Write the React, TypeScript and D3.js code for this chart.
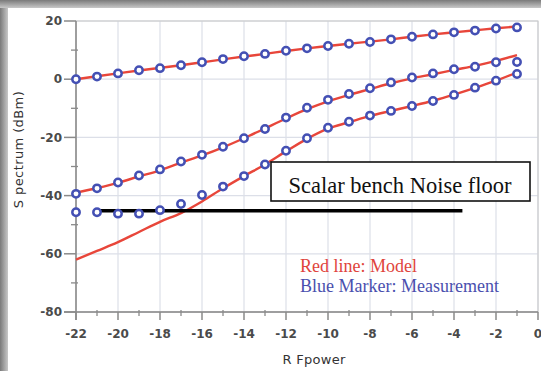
import React from 'react';
import * as d3 from 'd3';

// RF power steps (dBm)
const rfPower = [-22, -21, -20, -19, -18, -17, -16, -15, -14, -13, -12, -11, -10, -9, -8, -7, -6, -5, -4, -3, -2, -1];

// blue markers: measurement
const meas1 = [0, 0.9, 2.0, 3.1, 3.8, 4.8, 5.8, 6.9, 7.9, 8.7, 9.8, 10.6, 11.4, 12.2, 12.8, 13.7, 14.6, 15.4, 16.1, 16.7, 17.4, 17.8];
const meas2 = [-39.4, -37.5, -35.5, -33.1, -31, -28.3, -26, -23.2, -20.3, -17.1, -13.2, -9.8, -7.1, -5.1, -3.1, -1.1, 0.6, 2.0, 3.4, 4.3, 5.8, 5.9];
const meas3 = [-45.7, -45.7, -46.2, -46.2, -45, -42.9, -39.8, -36.9, -33.3, -29.3, -24.6, -20.3, -16.7, -14.6, -12.5, -10.9, -9.2, -7.5, -5.4, -2.9, -0.5, 1.8];

// red lines: model
const model1 = [0, 1.0, 2.0, 3.0, 3.9, 4.8, 5.8, 6.8, 7.8, 8.7, 9.7, 10.6, 11.4, 12.2, 12.9, 13.7, 14.6, 15.4, 16.1, 16.8, 17.5, 18.1];
const model2 = [-39, -37.4, -35.6, -33.4, -31.3, -28.7, -26.2, -23.4, -20.3, -16.9, -13.5, -10.3, -7.6, -5.4, -3.4, -1.4, 0.3, 1.7, 3.2, 4.6, 6.3, 8.3];
const model3 = [-62, -59, -56, -52.5, -49, -46, -42, -37.5, -33.3, -29.3, -24.8, -20.5, -17, -14.8, -12.6, -10.9, -9.2, -7.4, -5.3, -3, -0.5, 2.3];

const noiseFloor = { from: -20.9, to: -3.6, level: -45.2 };

const xTicks = [-22, -20, -18, -16, -14, -12, -10, -8, -6, -4, -2, 0];
const yTicks = [20, 0, -20, -40, -60, -80];

const W = 541;
const H = 377;
const plot = { left: 76, right: 538, top: 21, bottom: 312 };

export default function App() {
    const x = d3.scaleLinear().domain([-22, 0]).range([plot.left, plot.right]);
    const y = d3.scaleLinear().domain([-80, 20]).range([plot.bottom, plot.top]);
    const line = d3
        .line<number>()
        .x((d, i) => x(rfPower[i]))
        .y((d) => y(d))
        .curve(d3.curveMonotoneX);

    const minorX = d3.range(-21, 0, 2);
    const minorY = d3.range(-70, 20, 20);
    const models = [model1, model2, model3];
    const measures = [meas1, meas2, meas3];
    const axisColor = '#8a8a8a';
    const tickFont = '"DejaVu Sans", sans-serif';

    return (
        <svg width={W} height={H} style={{ position: 'absolute', left: 0, top: 0 }} xmlns="http://www.w3.org/2000/svg">
            <defs>
                <linearGradient id="leftShade" x1="0" x2="1" y1="0" y2="0">
                    <stop offset="0" stopColor="#7a7a7a" />
                    <stop offset="1" stopColor="#c8c8c8" />
                </linearGradient>
                <linearGradient id="topShade" x1="0" x2="0" y1="0" y2="1">
                    <stop offset="0" stopColor="#7a7a7a" />
                    <stop offset="1" stopColor="#c8c8c8" />
                </linearGradient>
            </defs>
            <rect width={W} height={H} fill="#ffffff" />
            <rect x={0} y={0} width={8} height={H - 6} fill="url(#leftShade)" />
            <rect x={0} y={0} width={W} height={8} fill="url(#topShade)" />

            {/* grid */}
            {xTicks.map((t) => (
                <line key={'gx' + t} x1={x(t)} x2={x(t)} y1={plot.top} y2={plot.bottom} stroke="#dcdfe8" strokeWidth={1.2} />
            ))}
            {yTicks.map((t) => (
                <line key={'gy' + t} x1={plot.left} x2={plot.right} y1={y(t)} y2={y(t)} stroke="#dcdfe8" strokeWidth={1.2} />
            ))}
            <rect x={plot.left} y={plot.top} width={plot.right - plot.left} height={plot.bottom - plot.top} fill="none" stroke="#c8c8c8" strokeWidth={1} />

            {/* axes */}
            <line x1={plot.left} x2={plot.left} y1={plot.top} y2={plot.bottom + 8} stroke={axisColor} strokeWidth={1.5} />
            <line x1={plot.left - 12} x2={plot.right} y1={plot.bottom} y2={plot.bottom} stroke={axisColor} strokeWidth={1.5} />
            {yTicks.map((t) => (
                <g key={'yt' + t}>
                    <line x1={plot.left - 12} x2={plot.left} y1={y(t)} y2={y(t)} stroke={axisColor} strokeWidth={1.5} />
                    <text x={plot.left - 14} y={y(t)} dy="0.35em" textAnchor="end" fontFamily={tickFont} fontSize={12} fill="#4a4a4a" fontWeight="bold">
                        {t}
                    </text>
                </g>
            ))}
            {minorY.map((t) => (
                <line key={'my' + t} x1={plot.left - 5} x2={plot.left + 2} y1={y(t)} y2={y(t)} stroke={axisColor} strokeWidth={1.3} />
            ))}
            {xTicks.map((t) => (
                <g key={'xt' + t}>
                    <line x1={x(t)} x2={x(t)} y1={plot.bottom} y2={plot.bottom + 8} stroke={axisColor} strokeWidth={1.5} />
                    <text x={x(t)} y={plot.bottom + 26} textAnchor="middle" fontFamily={tickFont} fontSize={12} fill="#4a4a4a" fontWeight="bold">
                        {t}
                    </text>
                </g>
            ))}
            {minorX.map((t) => (
                <line key={'mx' + t} x1={x(t)} x2={x(t)} y1={plot.bottom - 2} y2={plot.bottom + 4} stroke={axisColor} strokeWidth={1.3} />
            ))}

            {/* axis titles */}
            <text
                transform={`translate(23, ${(plot.top + plot.bottom) / 2 - 17}) rotate(-90)`}
                textAnchor="middle"
                fontFamily={tickFont}
                fontSize={13}
                letterSpacing={0.4}
                fill="#333"
            >
                S pectrum (dBm)
            </text>
            <text x={314} y={364} textAnchor="middle" fontFamily={tickFont} fontSize={13} letterSpacing={0.3} fill="#333">
                R Fpower
            </text>

            {/* model lines */}
            {models.map((m, i) => (
                <path key={'m' + i} d={line(m) || ''} fill="none" stroke="#e8463a" strokeWidth={2.4} />
            ))}

            {/* noise floor */}
            <line x1={x(noiseFloor.from)} x2={x(noiseFloor.to)} y1={y(noiseFloor.level)} y2={y(noiseFloor.level)} stroke="#000" strokeWidth={3.5} />

            {/* measurement markers */}
            {measures.map((m, i) =>
                m.map((v, j) => (
                    <circle key={`c${i}-${j}`} cx={x(rfPower[j])} cy={y(v)} r={3.7} fill="#ffffff" stroke="#4450b4" strokeWidth={2.5} />
                ))
            )}

            {/* annotation */}
            <rect x={271} y={162} width={259} height={39} fill="#ffffff" stroke="#111" strokeWidth={1.6} />
            <text x={400} y={193} textAnchor="middle" fontFamily='"Liberation Serif", serif' fontSize={22.5} fill="#111">
                Scalar bench Noise floor
            </text>

            {/* legend */}
            <text x={300} y={272} fontFamily='"Liberation Serif", serif' fontSize={18} fill="#e0443c">
                Red line: Model
            </text>
            <text x={300} y={292} fontFamily='"Liberation Serif", serif' fontSize={18} fill="#4a4fae">
                Blue Marker: Measurement
            </text>
        </svg>
    );
}
